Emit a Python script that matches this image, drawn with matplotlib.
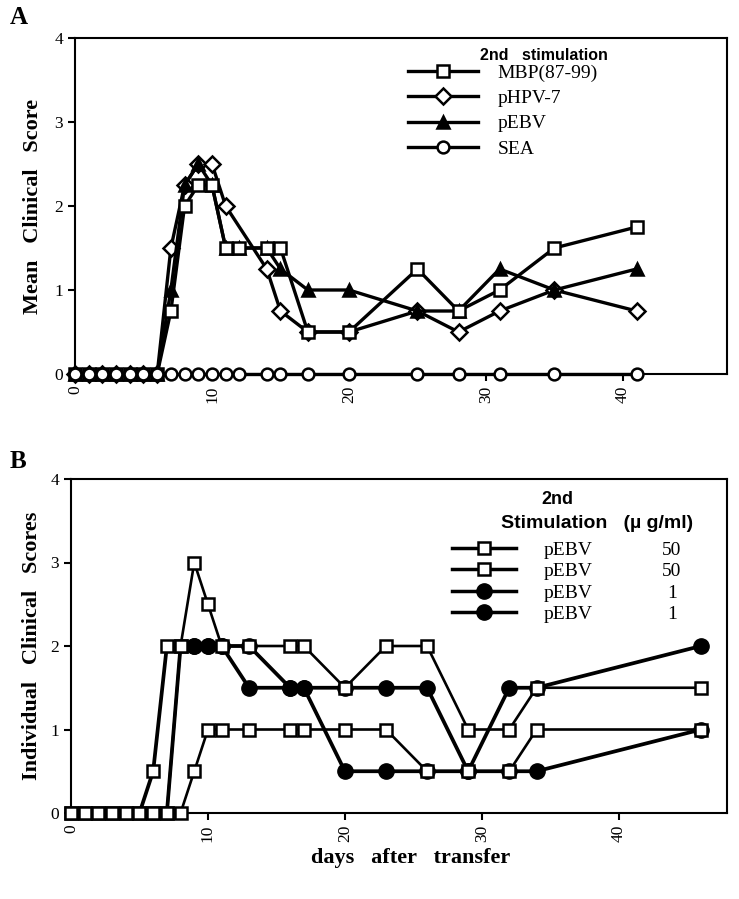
import numpy as np
import matplotlib
matplotlib.use("Agg")
import matplotlib.pyplot as plt
from matplotlib.lines import Line2D

# ---------------- Panel A data ----------------
days_sea = [0, 1, 2, 3, 4, 5, 6, 7, 8, 9, 10, 11, 12, 14, 15, 17, 20, 25, 28, 31, 35, 41]
sea = [0] * 22
days_mbp = [0, 1, 2, 3, 4, 5, 6, 7, 8, 9, 10, 11, 12, 14, 15, 17, 20, 25, 28, 31, 35, 41]
mbp = [0, 0, 0, 0, 0, 0, 0, 0.75, 2.0, 2.25, 2.25, 1.5, 1.5, 1.5, 1.5, 0.5, 0.5, 1.25, 0.75, 1.0, 1.5, 1.75]
days_hpv = [0, 1, 2, 3, 4, 5, 6, 7, 8, 9, 10, 11, 14, 15, 17, 20, 25, 28, 31, 35, 41]
hpv = [0, 0, 0, 0, 0, 0, 0, 1.5, 2.25, 2.5, 2.5, 2.0, 1.25, 0.75, 0.5, 0.5, 0.75, 0.5, 0.75, 1.0, 0.75]
days_ebv = [0, 1, 2, 3, 4, 5, 6, 7, 8, 9, 10, 11, 12, 14, 15, 17, 20, 25, 28, 31, 35, 41]
ebv = [0, 0, 0, 0, 0, 0, 0, 1.0, 2.25, 2.5, 2.25, 1.5, 1.5, 1.5, 1.25, 1.0, 1.0, 0.75, 0.75, 1.25, 1.0, 1.25]
labels_A = ["MBP(87-99)", "pHPV-7", "pEBV", "SEA"]

# ---------------- Panel B data ----------------
days_B = [0, 1, 2, 3, 4, 5, 6, 7, 8, 9, 10, 11, 13, 16, 17, 20, 23, 26, 29, 32, 34, 46]
sq1 = [0, 0, 0, 0, 0, 0, 0, 0, 2, 3, 2.5, 2, 2, 2, 2, 1.5, 2, 2, 1, 1, 1.5, 1.5]
sq2 = [0, 0, 0, 0, 0, 0, 0, 0, 0, 0.5, 1, 1, 1, 1, 1, 1, 1, 0.5, 0.5, 0.5, 1, 1]
ci1 = [0, 0, 0, 0, 0, 0, 0.5, 2, 2, 2, 2, 2, 1.5, 1.5, 1.5, 1.5, 1.5, 1.5, 0.5, 1.5, 1.5, 2]
ci2 = [0, 0, 0, 0, 0, 0, 0, 0, 2, 2, 2, 2, 2, 1.5, 1.5, 0.5, 0.5, 0.5, 0.5, 0.5, 0.5, 1]
labels_B = ["pEBV", "pEBV", "pEBV", "pEBV"]
doses_B = ["50", "50", "1", "1"]

serif = "Liberation Serif"
sans = "Liberation Sans"

W, H = 739, 899
fig = plt.figure(figsize=(W / 100, H / 100), dpi=100)

def fx(px):
    return px / W

def fy(py):
    return 1 - py / H

axA = fig.add_axes([fx(75), fy(374), fx(727) - fx(75), fy(38) - fy(374)])
axB = fig.add_axes([fx(71), fy(813), fx(727) - fx(71), fy(479) - fy(813)])

for ax in (axA, axB):
    for s in ax.spines.values():
        s.set_linewidth(1.5)
    ax.set_ylim(0, 4)
    ax.set_yticks([0, 1, 2, 3, 4])
    ax.set_xticks([0, 10, 20, 30, 40])
    ax.tick_params(direction="out", width=1.5, length=5, labelsize=12.5)
    for t in ax.get_yticklabels():
        t.set_fontfamily(serif)
    for t in ax.get_xticklabels():
        t.set_fontfamily(serif)
        t.set_rotation(90)

axA.set_xlim(0, 47.6)
axB.set_xlim(0, 47.9)

lw = 2.4
kw = dict(color="black", lw=lw, clip_on=False, markeredgewidth=1.8, markeredgecolor="black")
hA = []
hA.append(axA.plot(days_mbp, mbp, marker="s", ms=9, mfc="white", zorder=4, **kw)[0])
hA.append(axA.plot(days_hpv, hpv, marker="D", ms=8, mfc="white", zorder=3, **kw)[0])
hA.append(axA.plot(days_ebv, ebv, marker="^", ms=9, mfc="black", zorder=3, **kw)[0])
hA.append(axA.plot(days_sea, sea, marker="o", ms=8.5, mfc="white", zorder=5, **kw)[0])

axA.set_ylabel("Mean   Clinical   Score", fontfamily=serif, fontweight="bold", fontsize=16, labelpad=8)

legA = axA.legend(hA, labels_A, loc="upper left", bbox_to_anchor=(fx(408), fy(64)),
                  bbox_transform=fig.transFigure, frameon=False, borderpad=0, borderaxespad=0,
                  handlelength=3.6, handletextpad=1.0, labelspacing=0.4,
                  prop=dict(family=serif, size=14))
fig.text(fx(544), fy(55), "2nd   stimulation", ha="center", va="center",
         fontfamily=sans, fontweight="bold", fontsize=11.5)

# Panel B
k9 = days_B.index(9)
k6 = days_B.index(6)
hB = []
hB.append(axB.plot(days_B, sq1, marker="s", ms=8, mfc="white", color="black", lw=1.9,
                   markeredgewidth=1.8, clip_on=False, zorder=4)[0])
hB.append(axB.plot(days_B, sq2, marker="s", ms=8, mfc="white", color="black", lw=1.9,
                   markeredgewidth=1.8, clip_on=False, zorder=4)[0])
hB.append(axB.plot(days_B, ci1, marker="o", ms=11, mfc="black", color="black", lw=2.7,
                   markevery=slice(k9, None), clip_on=False, zorder=3)[0])
hB.append(axB.plot(days_B, ci2, marker="o", ms=11, mfc="black", color="black", lw=2.7,
                   markevery=slice(k9, None), clip_on=False, zorder=3)[0])
# early points of the first circle series appear as squares in the reference
axB.plot(days_B[k6:k9], ci1[k6:k9], ls="none", marker="s", ms=8, mfc="white", mec="black",
         markeredgewidth=1.8, zorder=4)

axB.set_ylabel("Individual   Clinical   Scores", fontfamily=serif, fontweight="bold", fontsize=16, labelpad=6)

leg_handles = [Line2D([], [], color="black", lw=2.5, marker="s", ms=8, mfc="white", markeredgewidth=1.8),
               Line2D([], [], color="black", lw=2.5, marker="s", ms=8, mfc="white", markeredgewidth=1.8),
               Line2D([], [], color="black", lw=2.5, marker="o", ms=11, mfc="black"),
               Line2D([], [], color="black", lw=2.5, marker="o", ms=11, mfc="black")]
legB = axB.legend(leg_handles, labels_B, loc="upper left", bbox_to_anchor=(fx(452), fy(541)),
                  bbox_transform=fig.transFigure, frameon=False, borderpad=0, borderaxespad=0,
                  handlelength=3.3, handletextpad=1.4, labelspacing=0.2,
                  prop=dict(family=serif, size=14))
fig.text(fx(557), fy(500), "2nd", ha="center", va="center", fontfamily=sans, fontweight="bold", fontsize=13)
fig.text(fx(597), fy(524), "Stimulation   (\u00b5 g/ml)", ha="center", va="center",
         fontfamily=sans, fontweight="bold", fontsize=14)

fig.canvas.draw()
inv = fig.transFigure.inverted()
for t, d in zip(legB.get_texts(), doses_B):
    bb = t.get_window_extent()
    yc = inv.transform(((bb.x0 + bb.x1) / 2, (bb.y0 + bb.y1) / 2))[1]
    fig.text(fx(672), yc, d, ha="center", va="center", fontfamily=serif, fontsize=14)

fig.text(fx(411), fy(858), "days   after   transfer", ha="center", va="center",
         fontfamily=serif, fontweight="bold", fontsize=16)
fig.text(fx(10), fy(18), "A", ha="left", va="center", fontfamily=serif, fontweight="bold", fontsize=18)
fig.text(fx(10), fy(462), "B", ha="left", va="center", fontfamily=serif, fontweight="bold", fontsize=18)

fig.savefig("out.png", dpi=100)
